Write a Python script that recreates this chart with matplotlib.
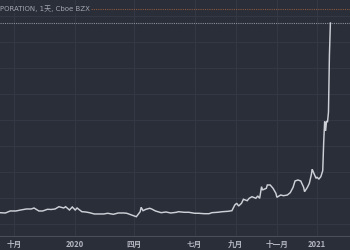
import numpy as np
import pandas as pd
import matplotlib
matplotlib.use("Agg")
import matplotlib.pyplot as plt

# ---- data ----
dates = [
    "2019-09-10", "2019-09-18", "2019-09-25", "2019-10-03", "2019-10-10", "2019-10-18",
    "2019-10-25", "2019-10-30", "2019-11-06", "2019-11-12", "2019-11-19", "2019-11-25",
    "2019-12-02", "2019-12-06", "2019-12-13", "2019-12-17", "2019-12-23", "2019-12-27",
    "2020-01-02", "2020-01-06", "2020-01-13", "2020-01-17", "2020-01-24", "2020-01-31",
    "2020-02-07", "2020-02-14", "2020-02-21", "2020-03-02", "2020-03-09", "2020-03-17",
    "2020-03-20", "2020-03-27", "2020-04-03", "2020-04-09", "2020-04-13", "2020-04-15",
    "2020-04-20", "2020-04-24", "2020-04-28", "2020-05-04", "2020-05-12", "2020-05-19",
    "2020-05-27", "2020-06-04", "2020-06-08", "2020-06-16", "2020-06-23", "2020-07-01",
    "2020-07-08", "2020-07-16", "2020-07-23", "2020-07-28", "2020-08-05", "2020-08-12",
    "2020-08-20", "2020-08-26", "2020-08-31", "2020-09-02", "2020-09-04", "2020-09-10",
    "2020-09-14", "2020-09-18", "2020-09-22", "2020-09-25", "2020-10-01", "2020-10-05",
    "2020-10-07", "2020-10-09", "2020-10-12", "2020-10-16", "2020-10-19", "2020-10-22",
    "2020-10-27", "2020-10-30", "2020-11-02", "2020-11-06", "2020-11-11", "2020-11-17",
    "2020-11-20", "2020-11-25", "2020-11-30", "2020-12-03", "2020-12-08", "2020-12-11",
    "2020-12-14", "2020-12-17", "2020-12-21", "2020-12-23", "2020-12-24", "2020-12-28",
    "2020-12-31", "2021-01-04", "2021-01-06", "2021-01-08", "2021-01-12", "2021-01-13",
    "2021-01-14", "2021-01-15", "2021-01-19", "2021-01-20", "2021-01-21", "2021-01-22",
    "2021-01-25",
]
prices = [
    4.35, 4.23, 5.00, 5.00, 5.38, 5.77,
    5.77, 6.15, 5.00, 5.00, 5.65, 5.58,
    5.77, 6.65, 6.15, 6.65, 5.38, 6.54,
    5.38, 6.15, 4.73, 4.62, 4.35, 3.85,
    3.85, 3.85, 4.12, 3.73, 4.23, 4.23,
    4.12, 3.46, 2.80, 4.73, 6.42, 5.12,
    5.65, 6.04, 5.77, 5.00, 4.35, 4.62,
    4.23, 4.50, 4.73, 4.50, 4.50, 4.12,
    4.12, 3.96, 3.96, 4.35, 4.50, 4.73,
    4.88, 5.12, 7.31, 7.96, 6.92, 7.96,
    9.50, 8.96, 9.88, 10.50, 9.88, 10.77,
    9.88, 14.35, 13.08, 13.73, 15.00, 15.00,
    13.73, 11.81, 10.27, 11.15, 10.88, 11.15,
    12.04, 14.12, 16.54, 16.92, 16.54, 14.12,
    12.42, 14.12, 15.65, 18.85, 21.04, 20.12,
    17.58, 17.96, 17.31, 18.19, 20.50, 31.40,
    39.40, 35.80, 39.60, 39.20, 43.00, 65.00,
    77.30,
]
last_price = 77.3
high_line = 82.7

tick_dates = ["2019-10-01", "2020-01-02", "2020-04-01", "2020-07-01",
              "2020-09-01", "2020-11-02", "2021-01-04"]
tick_labels = ["十月", "2020", "四月", "七月", "九月", "十一月", "2021"]
title_text = "PORATION, 1天, Cboe BZX"

holidays = ["2019-11-28", "2019-12-25", "2020-01-01", "2020-01-20", "2020-02-17",
            "2020-04-10", "2020-05-25", "2020-07-03", "2020-09-07", "2020-11-26",
            "2020-12-25", "2021-01-01", "2021-01-18", "2021-02-15"]

# ---- trading-day index axis (like TradingView) ----
cbd = pd.offsets.CustomBusinessDay(holidays=holidays)
tdays = pd.date_range("2019-08-01", "2021-04-01", freq=cbd)
def idx(ds):
    return np.searchsorted(tdays.values, pd.to_datetime(ds).values)

x = idx(dates)
xt = idx(tick_dates)

bg = "#2a2e39"
grid = "#343844"
fig = plt.figure(figsize=(3.5, 2.5), dpi=100, facecolor=bg)
ax = fig.add_axes([0, 0.056, 1, 0.944], facecolor=bg)

ax.plot(x, prices, color="#cdd0d6", lw=1.05, solid_joinstyle="miter", zorder=3)
ax.axhline(last_price, color="#8d909a", lw=0.8, ls=(0, (1, 1)), zorder=2)
ax.axhline(high_line, color="#8a5a3e", lw=0.8, ls=(0, (1, 1)), zorder=2)

px_per_day = 303 / (xt[-1] - xt[0])
ax.set_xlim(xt[0] - 14 / px_per_day, xt[0] + 336 / px_per_day)
ax.set_ylim(-4.62, 86.15)

ax.set_xticks(xt)
ax.set_xticklabels(tick_labels, family=["Noto Sans CJK SC", "DejaVu Sans"],
                   fontsize=5.5, color="#b2b5be", fontweight="bold")
ax.set_yticks(np.arange(0, 90, 10))
ax.tick_params(axis="x", length=0, pad=3)
ax.tick_params(axis="y", length=0, labelleft=False)
ax.grid(True, color=grid, lw=0.8)
ax.set_axisbelow(True)
for s in ["top", "left", "right"]:
    ax.spines[s].set_visible(False)
ax.spines["bottom"].set_color("#4a4e59")
ax.spines["bottom"].set_linewidth(0.8)

fig.text(0.0, 1 - 9 / 250, title_text, family=["DejaVu Sans", "Noto Sans CJK SC"],
         fontsize=5, color="#a3a6af", va="center", ha="left",
         bbox=dict(facecolor=bg, edgecolor="none", pad=0.5))

fig.savefig("out.png", dpi=100, facecolor=bg)
